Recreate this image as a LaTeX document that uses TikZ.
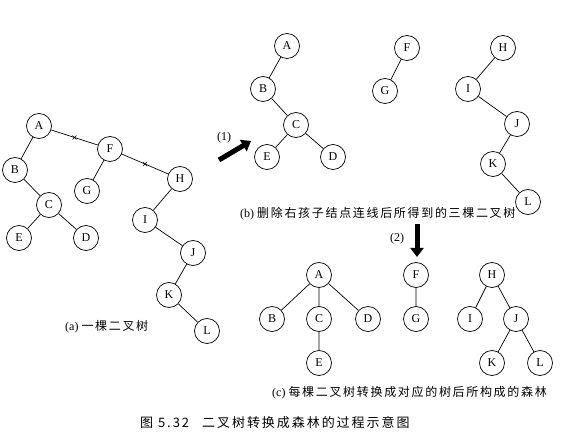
\documentclass[tikz,border=0pt]{standalone}
\usepackage{fontspec}
\setmainfont{Liberation Serif}
\newfontfamily\cjk{Noto Sans CJK SC}[LetterSpace=14]
\newfontfamily\cjkcap{Noto Sans CJK SC}[LetterSpace=15]
\usetikzlibrary{arrows.meta}
\begin{document}
\begin{tikzpicture}[x=1pt,y=-1pt,
  tn/.style={circle,draw,line width=0.7pt,minimum size=25pt,inner sep=0pt,font=\fontsize{12}{12}\selectfont},
  ed/.style={line width=0.7pt},
  bigarrow/.style={line width=5pt,-{Triangle[length=9pt,width=13pt]}},
  lbl/.style={font=\fontsize{12}{14}\selectfont,inner sep=0pt,anchor=west},
  num/.style={font=\fontsize{12}{14}\selectfont,inner sep=0pt}]
\useasboundingbox (0,0) rectangle (570,446);
% (a)
\node[tn] (aA) at (39,126) {A};
\node[tn] (aB) at (15,170) {B};
\node[tn] (aC) at (49,205) {C};
\node[tn] (aE) at (19,238) {E};
\node[tn] (aD) at (86,238) {D};
\node[tn] (aF) at (110,149) {F};
\node[tn] (aG) at (87,191) {G};
\node[tn] (aH) at (180,179) {H};
\node[tn] (aI) at (145,220) {I};
\node[tn] (aJ) at (193,253) {J};
\node[tn] (aK) at (169,295) {K};
\node[tn] (aL) at (207,331) {L};
\draw[ed] (aA)--(aB) (aB)--(aC) (aC)--(aE) (aC)--(aD) (aF)--(aG) (aH)--(aI) (aI)--(aJ) (aJ)--(aK) (aK)--(aL);
\draw[ed] (aA)--(aF) coordinate[pos=0.5] (m1);
\draw[ed] (aF)--(aH) coordinate[pos=0.5] (m2);
\draw[line width=0.5pt] ([shift={(-2,-2)}]m1)--([shift={(2,2)}]m1) ([shift={(-2,2)}]m1)--([shift={(2,-2)}]m1);
\draw[line width=0.5pt] ([shift={(-2,-2)}]m2)--([shift={(2,2)}]m2) ([shift={(-2,2)}]m2)--([shift={(2,-2)}]m2);
\node[lbl] (la) at (65,327) {(a) {\cjk 一棵二叉树}};
% (b)
\node[tn] (bA) at (287,46) {A};
\node[tn] (bB) at (263,89) {B};
\node[tn] (bC) at (296,125) {C};
\node[tn] (bE) at (267,157) {E};
\node[tn] (bD) at (333,157) {D};
\node[tn] (bF) at (407,48) {F};
\node[tn] (bG) at (385,91) {G};
\node[tn] (bH) at (503,48) {H};
\node[tn] (bI) at (468,89) {I};
\node[tn] (bJ) at (517,124) {J};
\node[tn] (bK) at (493,164) {K};
\node[tn] (bL) at (528,202) {L};
\draw[ed] (bA)--(bB) (bB)--(bC) (bC)--(bE) (bC)--(bD) (bF)--(bG) (bH)--(bI) (bI)--(bJ) (bJ)--(bK) (bK)--(bL);
\node[lbl] (lb) at (240,214) {(b) {\cjk 删除右孩子结点连线后所得到的三棵二叉树}};
\coordinate (s1) at (219,160);
\coordinate (e1) at (251,141);
\draw[bigarrow] (s1)--(e1);
\node[num] (n1) at (224,138) {(1)};
% (c)
\node[tn] (cA) at (319,275) {A};
\node[tn] (cB) at (272,319) {B};
\node[tn] (cC) at (319,319) {C};
\node[tn] (cD) at (368,319) {D};
\node[tn] (cE) at (319,363) {E};
\node[tn] (cF) at (416,275) {F};
\node[tn] (cG) at (416,319) {G};
\node[tn] (cH) at (492,275) {H};
\node[tn] (cI) at (470,319) {I};
\node[tn] (cJ) at (516,319) {J};
\node[tn] (cK) at (492,363) {K};
\node[tn] (cL) at (540,363) {L};
\draw[ed] (cA)--(cB) (cA)--(cC) (cA)--(cD) (cC)--(cE) (cF)--(cG) (cH)--(cI) (cH)--(cJ) (cJ)--(cK) (cJ)--(cL);
\coordinate (s2) at (417,224);
\coordinate (e2) at (417,257);
\draw[bigarrow] (s2)--(e2);
\node[num] (n2) at (397,239) {(2)};
\node[lbl] (lc) at (272,393) {(c) {\cjk 每棵二叉树转换成对应的树后所构成的森林}};
% caption
\node[lbl,font=\fontsize{13}{15}\selectfont] (cap) at (140,423) {\cjkcap 图 5.32\hspace{1em}二叉树转换成森林的过程示意图};
\end{tikzpicture}
\end{document}
